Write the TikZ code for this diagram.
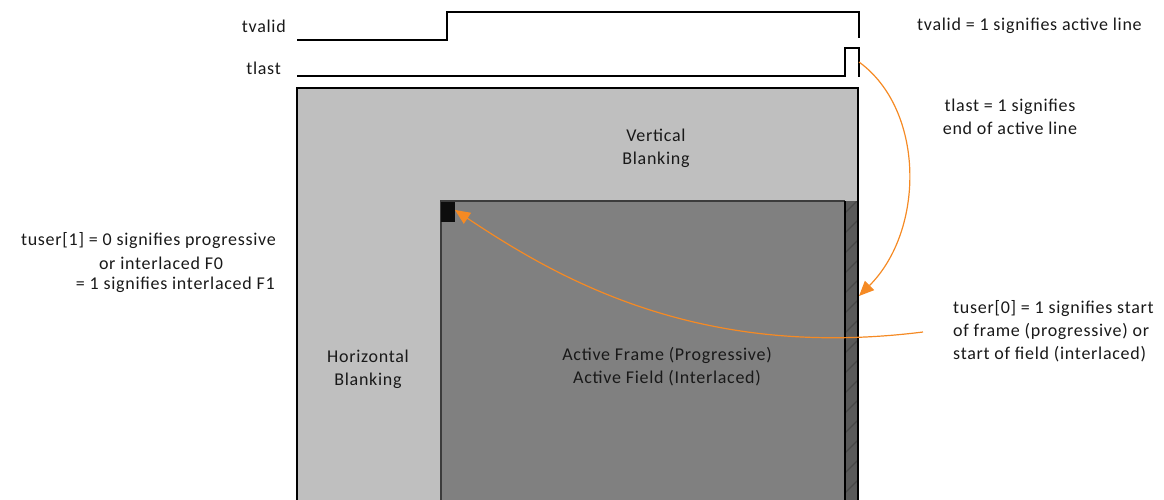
\documentclass[tikz,border=0pt]{standalone}
\usepackage{fontspec}
\setmainfont{Carlito}[LetterSpace=4]
\usetikzlibrary{arrows.meta}
\definecolor{blankgray}{HTML}{BFBFBF}
\definecolor{activegray}{HTML}{808080}
\definecolor{stripgray}{HTML}{5A5A5A}
\definecolor{hatchgray}{HTML}{484848}
\definecolor{edgegray}{HTML}{3C3C3C}
\definecolor{callout}{HTML}{F58A24}
\tikzset{
  signal/.style={line width=1.1pt, black},
  label/.style={font=\fontsize{18}{23}\selectfont, inner sep=0pt, text=black!90},
  pointer/.style={callout, line width=1.2pt, -{Triangle[length=15pt,width=13pt]}},
}
\begin{document}
\begin{tikzpicture}[x=1pt,y=-1pt]
\useasboundingbox (0,0) rectangle (1164,500);
\begin{scope}
\clip (0,0) rectangle (1164,500);
% blanking region
\fill[blankgray] (297,88) rectangle (858,520);
\draw[line width=1.4pt] (297,520) -- (297,88) -- (858,88) -- (858,201);
% active region
\fill[activegray] (441,201) rectangle (845,520);
\draw[edgegray, line width=1.6pt] (441,520) -- (441,201) -- (845,201);
% end-of-line strip with hatching
\fill[stripgray] (845,201) rectangle (858,520);
\begin{scope}
\clip (845,201) rectangle (858,520);
\foreach \k in {0,...,17}
  \draw[hatchgray, line width=1.2pt] (843,215+20*\k) -- (861,197+20*\k);
\end{scope}
\draw[line width=1.2pt] (845,201) -- (845,520);
\draw[line width=1.2pt] (858,201) -- (858,520);
% start-of-frame pixel
\fill[black!95] (441,202) rectangle (455,222);
\end{scope}

% tvalid and tlast waveforms
\draw[signal] (297,40) -- (447,40) -- (447,12) -- (859,12) -- (859,38);
\draw[signal] (297,76) -- (845,76) -- (845,48) -- (859,48) -- (859,77);

% signal names
\node[label, anchor=east] (tv) at (286,26) {tvalid};
\node[label, anchor=east] (tl) at (281,68) {tlast};

% region names
\node[label, align=center] (vb) at (656,148) {Vertical\\Blanking};
\node[label, align=center] (hb) at (368,369) {Horizontal\\Blanking};
\node[label, align=center] (af) at (667,367) {Active Frame (Progressive)\\Active Field (Interlaced)};

% annotations
\node[label, anchor=west] (tvnote) at (917,26) {tvalid = 1 signifies active line};
\node[label, align=center] (tlnote) at (1010,117) {tlast = 1 signifies\\end of active line};
\node[label, anchor=east] (tu1a) at (276,241) {tuser[1] = 0 signifies progressive};
\node[label] (tu1b) at (161,263) {or interlaced F0};
\node[label, anchor=east] (tu1c) at (275,285) {= 1 signifies interlaced F1};
\node[label, align=left, anchor=west] (tu0) at (953,331) {tuser[0] = 1 signifies start\\of frame (progressive) or\\start of field (interlaced)};

% callout arrows
\coordinate (lastend) at (859,62);
\coordinate (striptop) at (859,296);
\coordinate (tu0tail) at (923,332);
\coordinate (sof) at (455,210);
\draw[pointer] (lastend) .. controls (925,110) and (925,230) .. (striptop);
\draw[pointer] (tu0tail) .. controls (700,360) and (560,280) .. (sof);
\end{tikzpicture}
\end{document}
